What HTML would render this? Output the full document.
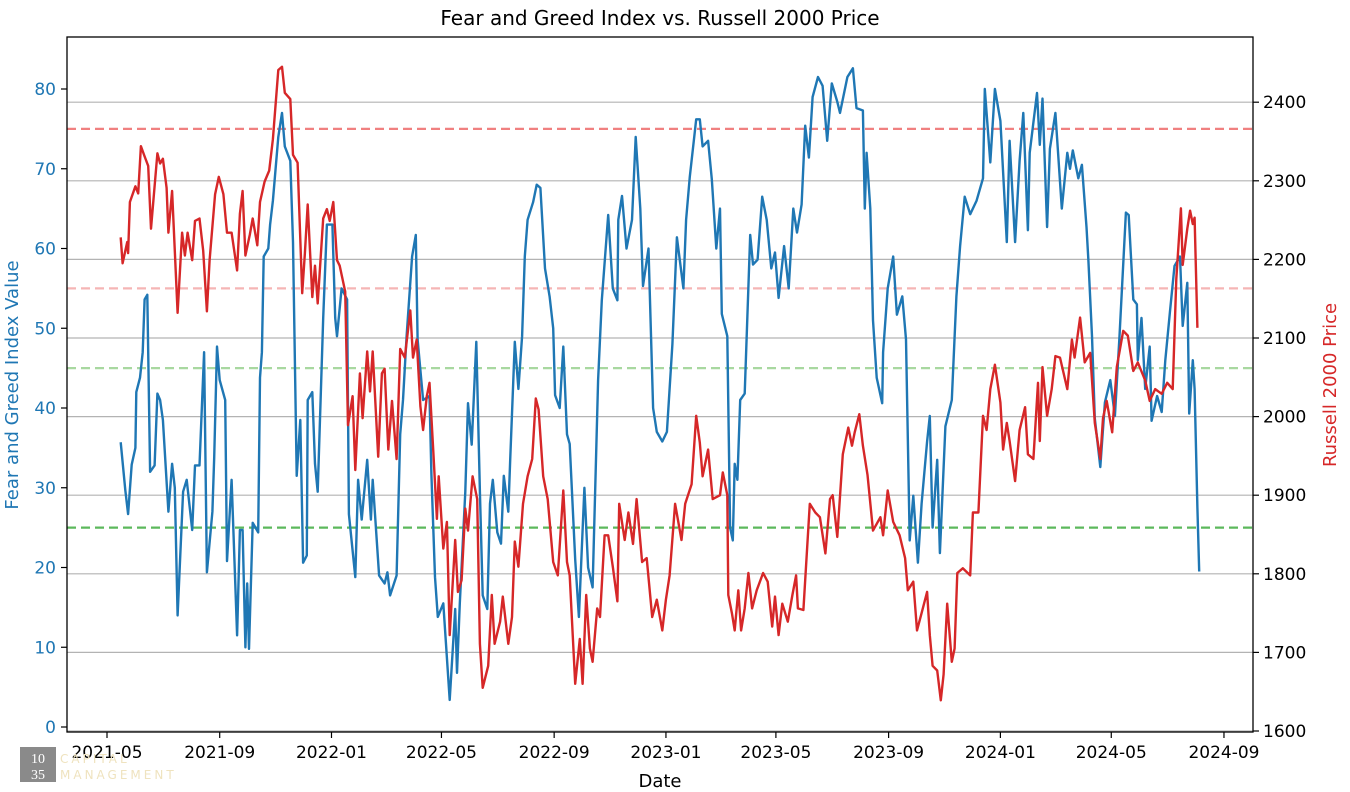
<!DOCTYPE html>
<html><head><meta charset="utf-8">
<style>
html,body{margin:0;padding:0;background:#fff;}
svg{display:block;font-family:"DejaVu Sans","Liberation Sans",sans-serif;}
</style></head>
<body>
<svg id="chart" width="1350" height="792" viewBox="0 0 1350 792" xmlns="http://www.w3.org/2000/svg">
<rect x="0" y="0" width="1350" height="792" fill="#fff"/>
<text x="660" y="25" font-size="20" text-anchor="middle" fill="#000">Fear and Greed Index vs. Russell 2000 Price</text>
<g id="grid"></g>
<g id="refs"></g>
<defs><clipPath id="clip"><rect x="67" y="37" width="1186" height="695"/></clipPath></defs>
<g id="series" clip-path="url(#clip)"></g>
<rect x="67" y="37" width="1186" height="695" fill="none" stroke="#000" stroke-width="1.3"/>
<g id="axes"></g>
<text x="660" y="787" font-size="18" text-anchor="middle">Date</text>
<text transform="translate(18,385) rotate(-90)" font-size="18" text-anchor="middle" fill="#1f77b4">Fear and Greed Index Value</text>
<text transform="translate(1336,385) rotate(-90)" font-size="18" text-anchor="middle" fill="#d62728">Russell 2000 Price</text>
<g>
<rect x="20" y="747" width="36" height="35" fill="#8a8a8a"/>
<text x="38" y="763" font-size="14" fill="#fff" text-anchor="middle" font-family="Liberation Serif, serif">10</text>
<text x="38" y="779" font-size="14" fill="#fff" text-anchor="middle" font-family="Liberation Serif, serif">35</text>
<text x="60" y="763" font-size="12" fill="#efe3bf" letter-spacing="3">CAPITAL</text>
<text x="60" y="779" font-size="12" fill="#efe3bf" letter-spacing="3">MANAGEMENT</text>
</g>
</svg>
<script>
// dates as days since 2021-05-01
const fgDays=[15,20,23,27,31,32,36,39,41,44,47,52,55,58,61,67,71,74,77,83,87,93,96,101,106,109,115,117,120,123,129,131,136,142,145,148,151,153,155,159,165,167,169,171,176,178,181,187,191,194,200,203,207,211,214,218,219,224,227,230,236,240,246,249,251,256,262,264,271,274,278,284,288,290,297,303,306,309,316,320,323,327,333,337,339,345,352,354,358,361,367,374,380,382,385,391,394,398,403,407,410,415,418,421,426,430,433,438,440,445,449,453,456,459,465,469,473,478,483,487,489,494,498,502,505,511,515,521,525,530,536,540,547,552,557,558,562,567,573,577,582,585,591,596,600,606,611,617,622,629,632,636,643,647,650,656,660,665,669,671,677,680,683,685,688,691,696,702,705,710,715,720,725,729,733,739,744,749,753,758,762,766,770,776,781,786,791,797,800,808,814,818,825,827,829,833,836,840,846,847,852,858,862,868,872,876,880,885,889,895,898,901,906,909,915,922,927,931,936,942,949,956,958,964,969,975,982,985,991,996,1000,1005,1007,1015,1018,1021,1026,1029,1035,1042,1048,1051,1054,1060,1064,1069,1071,1075,1078,1084,1089,1095,1100,1105,1112,1115,1120,1124,1125,1129,1133,1138,1140,1146,1151,1155,1160,1165,1171,1174,1179,1181,1185,1187,1190,1192];
const fgValues=[35.7,29.7,26.7,32.9,35,42,43.8,47,53.6,54.2,32,32.8,41.8,41,38.5,27,33,30,14,29.5,31,24.7,32.8,32.8,47,19.4,27,33.8,47.7,43.5,41,20.8,31,11.5,24.7,24.7,10,18,9.8,25.6,24.4,43.8,47,59,60,63,66,74,77,72.8,71,60.8,31.5,38.5,20.6,21.5,41,42,33,29.5,51.3,63,63,51.3,49,55,53.6,26.7,18.8,31,26,33.5,26,31,19,18,19.4,16.5,19,36.7,41,49,59,61.7,48.6,41,41.5,31.7,18.8,13.8,15.5,3.4,14.8,6.8,15.5,29.5,40.6,35.4,48.3,29.5,16.5,14.8,28,31,24.4,23,31.5,27,33.5,48.3,42.4,49,59,63.6,65.8,68,67.6,57.5,54,50,41.6,40,47.7,36.7,35.5,21,13.8,30,20,17.5,43.5,53.5,64.2,55,53.5,63.6,66.6,60,63.6,74,65,55.3,60,40,37,35.8,37,48,61.4,55,63.6,69,76.2,76.2,72.8,73.5,68.7,60,65,51.8,49,25,23.4,33,31,41,41.8,61.7,58,58.6,66.5,63.6,57.5,59.5,53.8,60.3,55,65,62,65.5,75.4,71.4,79,81.5,80.4,73.5,80.7,78.4,77,81.5,82.6,77.6,77.3,65,72,65,51,43.8,40.6,47,55,59,51.7,54,48.6,23.4,29,20.6,28,35.8,39,25,33.5,21.8,37.7,41,54,60.3,66.5,64.3,66,68.8,80,70.8,80,76,60.8,73.5,60.8,71,77,62.3,72,79.5,73,78.8,62.7,72.5,77,65,72,70,72.3,68.8,70.5,62.7,58.5,49,38.7,32.6,40.7,43.5,39,49,64.5,64.2,53.6,53,46,51.3,42.4,47.7,38.4,41.5,39.5,46,52,57.8,59,50.3,55.7,39.3,46,42.4,27.5,19.5];
const rutDays=[15,17,22,23,25,31,34,37,41,45,48,55,58,61,65,67,71,74,77,82,85,88,93,96,101,105,109,112,118,122,127,131,136,142,145,148,151,156,159,164,167,172,177,181,187,191,194,200,203,208,213,216,219,224,227,230,236,240,243,247,251,254,260,263,268,271,276,279,284,287,290,296,300,303,307,311,316,320,325,331,334,338,342,345,349,352,356,360,362,367,371,374,380,383,387,391,394,399,404,407,410,416,420,423,429,432,438,442,445,449,454,459,464,468,471,476,481,487,492,498,502,505,511,516,519,523,527,530,535,538,543,547,552,557,559,565,569,574,578,584,589,595,600,606,610,614,620,627,631,638,643,647,650,656,661,669,672,677,678,682,685,689,692,696,700,704,709,716,721,726,729,733,737,743,748,752,754,760,764,767,773,778,784,789,792,797,803,809,813,816,821,825,830,836,844,847,852,858,865,871,874,880,884,889,895,898,901,906,910,913,917,922,925,928,934,942,945,951,956,960,964,969,975,978,982,985,991,996,1002,1005,1011,1016,1018,1021,1026,1031,1035,1040,1048,1053,1056,1062,1067,1073,1078,1084,1087,1091,1097,1102,1109,1114,1120,1125,1133,1138,1144,1151,1157,1163,1167,1172,1174,1179,1182,1185,1187,1190];
const rutValues=[2228,2195,2222,2208,2273,2293,2284,2344,2331,2319,2239,2335,2322,2328,2291,2234,2287,2211,2132,2234,2205,2234,2199,2249,2252,2211,2134,2199,2283,2305,2283,2234,2234,2186,2258,2287,2205,2232,2252,2218,2273,2299,2313,2353,2441,2445,2412,2404,2333,2323,2157,2208,2270,2152,2192,2144,2252,2264,2249,2273,2199,2192,2159,1989,2026,1932,2055,1998,2083,2032,2083,1949,2055,2061,1958,2020,1946,2086,2075,2135,2075,2098,2013,1983,2026,2043,1958,1870,1924,1832,1866,1722,1843,1777,1792,1883,1855,1924,1895,1711,1655,1683,1773,1711,1739,1771,1711,1745,1841,1809,1889,1924,1946,2023,2009,1924,1895,1815,1798,1906,1815,1798,1660,1717,1660,1773,1705,1688,1756,1745,1849,1849,1809,1765,1889,1843,1878,1838,1895,1815,1820,1745,1767,1728,1767,1798,1889,1843,1889,1914,2001,1967,1924,1958,1895,1900,1929,1900,1773,1750,1728,1779,1728,1756,1801,1756,1779,1801,1790,1733,1771,1722,1762,1739,1773,1798,1756,1754,1832,1889,1878,1872,1826,1895,1900,1847,1952,1986,1963,1980,2003,1963,1926,1855,1872,1849,1906,1866,1849,1820,1779,1790,1728,1750,1777,1722,1683,1677,1639,1672,1762,1688,1705,1801,1807,1798,1878,1878,2001,1983,2035,2066,2018,1958,1992,1969,1918,1983,2012,1952,1946,2043,1969,2063,2001,2035,2077,2075,2035,2098,2075,2126,2069,2081,1992,1946,1998,2020,1980,2063,2109,2103,2058,2069,2046,2020,2035,2029,2043,2035,2175,2265,2193,2239,2262,2245,2253,2113];
const xTickLabels=["2021-05","2021-09","2022-01","2022-05","2022-09","2023-01","2023-05","2023-09","2024-01","2024-05","2024-09"];
const xTickDays=[0,123,245,365,488,610,730,853,975,1096,1219];
const leftTicks=[0,10,20,30,40,50,60,70,80];
const rightTicks=[1600,1700,1800,1900,2000,2100,2200,2300,2400];
const refLevels=[75,55,45,25];
const refColors=["#f08080","#f5b5b5","#a8d8a0","#5cb85c"];

const NS="http://www.w3.org/2000/svg";
function xs(d){return 107+d*0.9163;}
function yl(v){return 727-v*7.975;}
function yr(p){return 731-(p-1600)*0.786;}
function mk(tag,attrs,parent){const e=document.createElementNS(NS,tag);for(const k in attrs)e.setAttribute(k,attrs[k]);parent.appendChild(e);return e;}

const grid=document.getElementById('grid'),refs=document.getElementById('refs'),series=document.getElementById('series'),axes=document.getElementById('axes');

rightTicks.forEach(t=>{
  const l=mk('line',{x1:67,x2:1253,y1:yr(t),y2:yr(t),stroke:'#b3b3b3','stroke-width':1.2},grid);
  
  
  const tk=mk('line',{x1:1253,x2:1259,y1:yr(t),y2:yr(t),stroke:'#000','stroke-width':1.2},axes);
  
  
  const tx=mk('text',{x:1263,y:yr(t)+6,'font-size':17,fill:'#000'},axes);
  tx.textContent=t;
  
  
});
refLevels.forEach((v,i)=>{
  const l=mk('line',{x1:67,x2:1253,y1:yl(v),y2:yl(v),stroke:refColors[i],'stroke-width':2.2,'stroke-dasharray':'9,5'},refs);
  
  
});
leftTicks.forEach(t=>{
  const tk=mk('line',{x1:61,x2:67,y1:yl(t),y2:yl(t),stroke:'#000','stroke-width':1.2},axes);
  
  
  const tx=mk('text',{x:56,y:yl(t)+6,'font-size':17,fill:'#1f77b4','text-anchor':'end'},axes);
  tx.textContent=t;
  
  
});
xTickDays.forEach((d,i)=>{
  const tk=mk('line',{x1:xs(d),x2:xs(d),y1:732,y2:738,stroke:'#000','stroke-width':1.2},axes);
  
  
  const tx=mk('text',{x:xs(d),y:758,'font-size':17,fill:'#000','text-anchor':'middle'},axes);
  tx.textContent=xTickLabels[i];
  
  
});
function path(days,vals,yf){return days.map((d,i)=>(i?'L':'M')+xs(d).toFixed(1)+','+yf(vals[i]).toFixed(1)).join('');}
const fg=mk('path',{d:path(fgDays,fgValues,yl),fill:'none',stroke:'#1f77b4','stroke-width':2.4,'stroke-linejoin':'round'},series);


const rut=mk('path',{d:path(rutDays,rutValues,yr),fill:'none',stroke:'#d62728','stroke-width':2.4,'stroke-linejoin':'round'},series);


</script>
</body></html>
